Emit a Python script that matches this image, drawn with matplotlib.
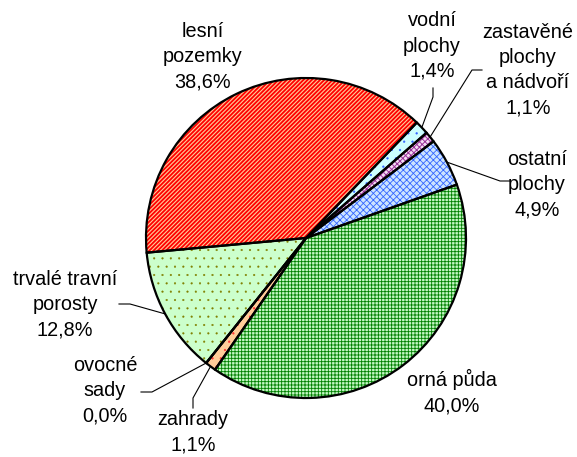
import numpy as np
import matplotlib
matplotlib.use("Agg")
import matplotlib.pyplot as plt

# ---- data ----
categories = ['orná půda', 'zahrady', 'ovocné sady', 'trvalé travní porosty',
              'lesní pozemky', 'vodní plochy', 'zastavěné plochy a nádvoří',
              'ostatní plochy']
label_names = ['orná půda', 'zahrady', 'ovocné\nsady', 'trvalé travní\nporosty',
               'lesní\npozemky', 'vodní\nplochy', 'zastavěné\nplochy\na nádvoří',
               'ostatní\nplochy']
values = [40.0, 1.1, 0.0, 12.8, 38.6, 1.4, 1.1, 4.9]

# ---- styles ----
face_colors = ['#C4F7C4', '#FFCC99', '#FFCC99', '#CCFFCC',
               '#FFCC99', '#CCFFFF', '#F4DDF4', '#CCE4FF']
hatch_colors = ['#008000', '#FF3333', '#FF3333', '#808000',
                '#FF0000', '#3366FF', '#993399', '#3366FF']
hatches = ['+++++', '..', '..', '..', '////////', '..', 'xxxxxx', 'xxxxx']
hatch_lw = [0.6, 0.4, 0.4, 0.3, 1.3, 0.4, 0.7, 0.6]

# label block centres in pixels (x, y from top)
label_pos = [(452, 392), (193, 432), (105, 391), (65, 305),
             (203, 57), (432, 46), (528, 70), (537, 185)]
# leader elbows in pixels (None = no leader)
leaders = [None,
           [(193, 408), (193, 398)],
           [(141, 392), (152, 392)],
           [(119, 304), (130, 304)],
           None,
           [(433, 88), (433, 97)],
           [(482, 70), (472, 70)],
           [(510, 181), (500, 181)]]

W, H = 577, 457
CX, CY, R = 306, 238, 160
START = 19.5

plt.rcParams['font.family'] = ['Liberation Sans', 'DejaVu Sans']
fig = plt.figure(figsize=(W / 100, H / 100), dpi=100)
ax = fig.add_axes([(CX - R) / W, (H - CY - R) / H, 2 * R / W, 2 * R / H])

# hatched fills
wedges, _ = ax.pie(values, startangle=START, counterclock=False, radius=1,
                   colors=face_colors,
                   wedgeprops=dict(linewidth=0))
for w, hc, h, lw in zip(wedges, hatch_colors, hatches, hatch_lw):
    w.set_edgecolor(hc)
    w.set_hatch(h)
    if hasattr(w, 'set_hatch_linewidth'):
        w.set_hatch_linewidth(lw)
    w.set_linewidth(0)

# black outlines
outl, _ = ax.pie(values, startangle=START, counterclock=False, radius=1,
                 colors=['none'] * len(values),
                 wedgeprops=dict(linewidth=1.6, edgecolor='black', fill=False))

ax.set_xlim(-1, 1)
ax.set_ylim(-1, 1)
ax.set_aspect('equal')
ax.axis('off')


def px2data(x, y):
    return (x - CX) / R, (CY - y) / R


for w, name, v, pos, ld in zip(wedges, label_names, values, label_pos, leaders):
    txt = name + '\n' + f"{v:.1f}".replace('.', ',') + '%'
    fig.text(pos[0] / W, 1 - pos[1] / H, txt, ha='center', va='center',
             multialignment='center', fontsize=14.3, linespacing=1.42,
             color='black')
    if ld is not None:
        mid = np.deg2rad((w.theta1 + w.theta2) / 2)
        pts = [px2data(*p) for p in ld] + [(np.cos(mid), np.sin(mid))]
        xs, ys = zip(*pts)
        ax.plot(xs, ys, color='black', linewidth=0.8, clip_on=False)

fig.savefig('out.png', dpi=100)
